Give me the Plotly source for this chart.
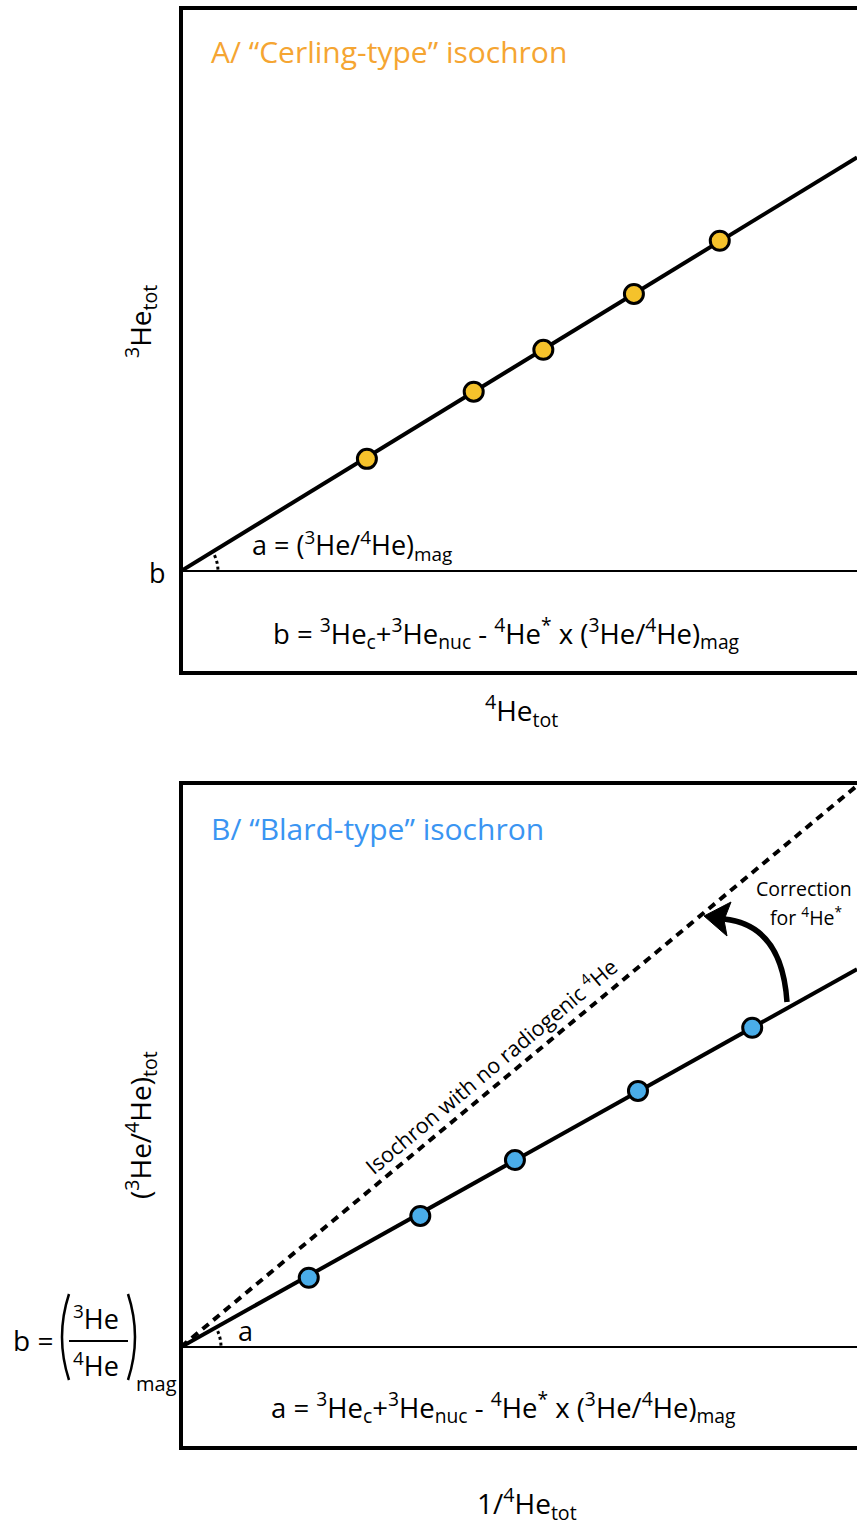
import plotly.graph_objects as go
import numpy as np

W, H = 857, 1526
FONT = "Open Sans"

# ---------------- data (arbitrary schematic units) ----------------
# Panel A: Cerling-type isochron  (3He_tot vs 4He_tot)
a_x = [2.75, 4.33, 5.36, 6.70, 7.97]
a_y = [3.22, 4.23, 4.86, 5.70, 6.50]
a_intercept = 1.534
a_slope = 0.622

# Panel B: Blard-type isochron  ((3He/4He)_tot vs 1/4He_tot)
b_x = [1.89, 3.54, 4.94, 6.76, 8.45]
b_y = [2.56, 3.49, 4.33, 5.37, 6.32]
b_intercept = 1.52
b_slope = 0.568
b_slope_noradio = 0.844

X_RANGE = [0, 10]
Y_RANGE = [0, 10]

YELLOW = "#F5C22B"
BLUE = "#4AADE9"
ORANGE = "#F5A532"
TITLEBLUE = "#3A95F2"

def px(x):
    return x / W

def py(y):
    return 1 - y / H

fig = go.Figure()

line_x = np.array([0.0, 10.0])

# Panel A traces
fig.add_trace(go.Scatter(x=line_x, y=a_intercept + a_slope * line_x, mode="lines",
                         line=dict(color="black", width=4), xaxis="x", yaxis="y",
                         hoverinfo="skip", showlegend=False))
fig.add_trace(go.Scatter(x=[0, 10], y=[a_intercept, a_intercept], mode="lines",
                         line=dict(color="black", width=2), xaxis="x", yaxis="y",
                         hoverinfo="skip", showlegend=False))
fig.add_trace(go.Scatter(x=a_x, y=a_y, mode="markers",
                         marker=dict(size=19, color=YELLOW, line=dict(color="black", width=3)),
                         xaxis="x", yaxis="y", showlegend=False))

# Panel B traces
fig.add_trace(go.Scatter(x=line_x, y=b_intercept + b_slope_noradio * line_x, mode="lines",
                         line=dict(color="black", width=4, dash="8px,6px"), xaxis="x2", yaxis="y2",
                         hoverinfo="skip", showlegend=False))
fig.add_trace(go.Scatter(x=line_x, y=b_intercept + b_slope * line_x, mode="lines",
                         line=dict(color="black", width=4), xaxis="x2", yaxis="y2",
                         hoverinfo="skip", showlegend=False))
fig.add_trace(go.Scatter(x=[0, 10], y=[b_intercept, b_intercept], mode="lines",
                         line=dict(color="black", width=2), xaxis="x2", yaxis="y2",
                         hoverinfo="skip", showlegend=False))
fig.add_trace(go.Scatter(x=b_x, y=b_y, mode="markers",
                         marker=dict(size=19, color=BLUE, line=dict(color="black", width=3)),
                         xaxis="x2", yaxis="y2", showlegend=False))

ax_common = dict(range=X_RANGE, visible=False, fixedrange=True)
ay_common = dict(range=Y_RANGE, visible=False, fixedrange=True)
fig.update_layout(
    width=W, height=H,
    margin=dict(l=0, r=0, t=0, b=0),
    paper_bgcolor="white", plot_bgcolor="white",
    xaxis=dict(domain=[181 / W, 1], anchor="y", **ax_common),
    yaxis=dict(domain=[py(673), py(8)], anchor="x", **ay_common),
    xaxis2=dict(domain=[181 / W, 1], anchor="y2", **ax_common),
    yaxis2=dict(domain=[py(1448), py(783)], anchor="x2", **ay_common),
    font=dict(family=FONT, color="black"),
    showlegend=False,
)

shapes = []
# boxes (right side runs off the page)
for ya, yb in [(8, 673), (783, 1448)]:
    shapes.append(dict(type="rect", xref="paper", yref="paper",
                       x0=px(181), x1=px(900), y0=py(yb), y1=py(ya),
                       line=dict(color="black", width=4), fillcolor="rgba(0,0,0,0)"))

def arc_path(cx, cy, r, a0, a1, n=12):
    pts = []
    for t in np.linspace(np.radians(a0), np.radians(a1), n):
        pts.append((px(cx + r * np.cos(t)), py(cy - r * np.sin(t))))
    return "M " + " L ".join(f"{x:.5f},{y:.5f}" for x, y in pts)

shapes.append(dict(type="path", xref="paper", yref="paper", path=arc_path(181, 571, 37, 2, 31),
                   line=dict(color="black", width=3, dash="dot")))
shapes.append(dict(type="path", xref="paper", yref="paper", path=arc_path(181, 1347, 40, 2, 29),
                   line=dict(color="black", width=3, dash="dot")))

# curved correction arrow
shapes.append(dict(type="path", xref="paper", yref="paper",
                   path=f"M {px(787)},{py(1002)} Q {px(782)},{py(925)} {px(724)},{py(919)}",
                   line=dict(color="black", width=5.5)))
shapes.append(dict(type="path", xref="paper", yref="paper",
                   path=(f"M {px(704)},{py(916)} L {px(731)},{py(902)} L {px(724)},{py(920)} "
                         f"L {px(727)},{py(936)} Z"),
                   line=dict(color="black", width=1), fillcolor="black"))

# b = (3He/4He)mag fraction construction
shapes.append(dict(type="line", xref="paper", yref="paper",
                   x0=px(69), x1=px(128), y0=py(1341), y1=py(1341),
                   line=dict(color="black", width=2)))
shapes.append(dict(type="path", xref="paper", yref="paper",
                   path=f"M {px(69)},{py(1294)} Q {px(55)},{py(1337)} {px(69)},{py(1380)}",
                   line=dict(color="black", width=2.5)))
shapes.append(dict(type="path", xref="paper", yref="paper",
                   path=f"M {px(128)},{py(1294)} Q {px(142)},{py(1337)} {px(128)},{py(1380)}",
                   line=dict(color="black", width=2.5)))

fig.update_layout(shapes=shapes)

def ann(text, x, y, size=24, color="black", xanchor="center", angle=0):
    fig.add_annotation(text=text, x=px(x), y=py(y), xref="paper", yref="paper",
                       showarrow=False, xanchor=xanchor, yanchor="middle",
                       textangle=angle, font=dict(family=FONT, size=size, color=color))

ann("A/ “Cerling-type” isochron", 209, 52, size=30, color=ORANGE, xanchor="left")
ann("<sup>3</sup>He<sub>tot</sub>", 140, 322, size=28, angle=-90)
ann("b", 157, 573, size=27)
ann("a = (<sup>3</sup>He/<sup>4</sup>He)<sub>mag</sub>", 250, 545, size=27, xanchor="left")
ann("b = <sup>3</sup>He<sub>c</sub>+<sup>3</sup>He<sub>nuc</sub> - <sup>4</sup>He<sup>*</sup> x (<sup>3</sup>He/<sup>4</sup>He)<sub>mag</sub>",
    506, 633, size=27.5)
ann("<sup>4</sup>He<sub>tot</sub>", 521, 710, size=28)

ann("B/ “Blard-type” isochron", 209, 828, size=30, color=TITLEBLUE, xanchor="left")
ann("(<sup>3</sup>He/<sup>4</sup>He)<sub>tot</sub>", 140, 1125, size=28, angle=-90)
ann("Isochron with no radiogenic <sup>4</sup>He", 490, 1065, size=21.5, angle=-40)
ann("Correction", 804, 889, size=19.5)
ann("for <sup>4</sup>He<sup>*</sup>", 806, 916, size=19.5)
ann("a", 245, 1330, size=27)
ann("a = <sup>3</sup>He<sub>c</sub>+<sup>3</sup>He<sub>nuc</sub> - <sup>4</sup>He<sup>*</sup> x (<sup>3</sup>He/<sup>4</sup>He)<sub>mag</sub>",
    503, 1407, size=27.5)
ann("1/<sup>4</sup>He<sub>tot</sub>", 527, 1503, size=28)

ann("b =", 33, 1340, size=28)
ann("<sup>3</sup>He", 96, 1317, size=27)
ann("<sup>4</sup>He", 96, 1364, size=27)
ann("mag", 156, 1383, size=20)

fig.write_html("out.html", config={"displayModeBar": False},
               post_script="document.body.style.margin='0';document.body.style.padding='0';")
